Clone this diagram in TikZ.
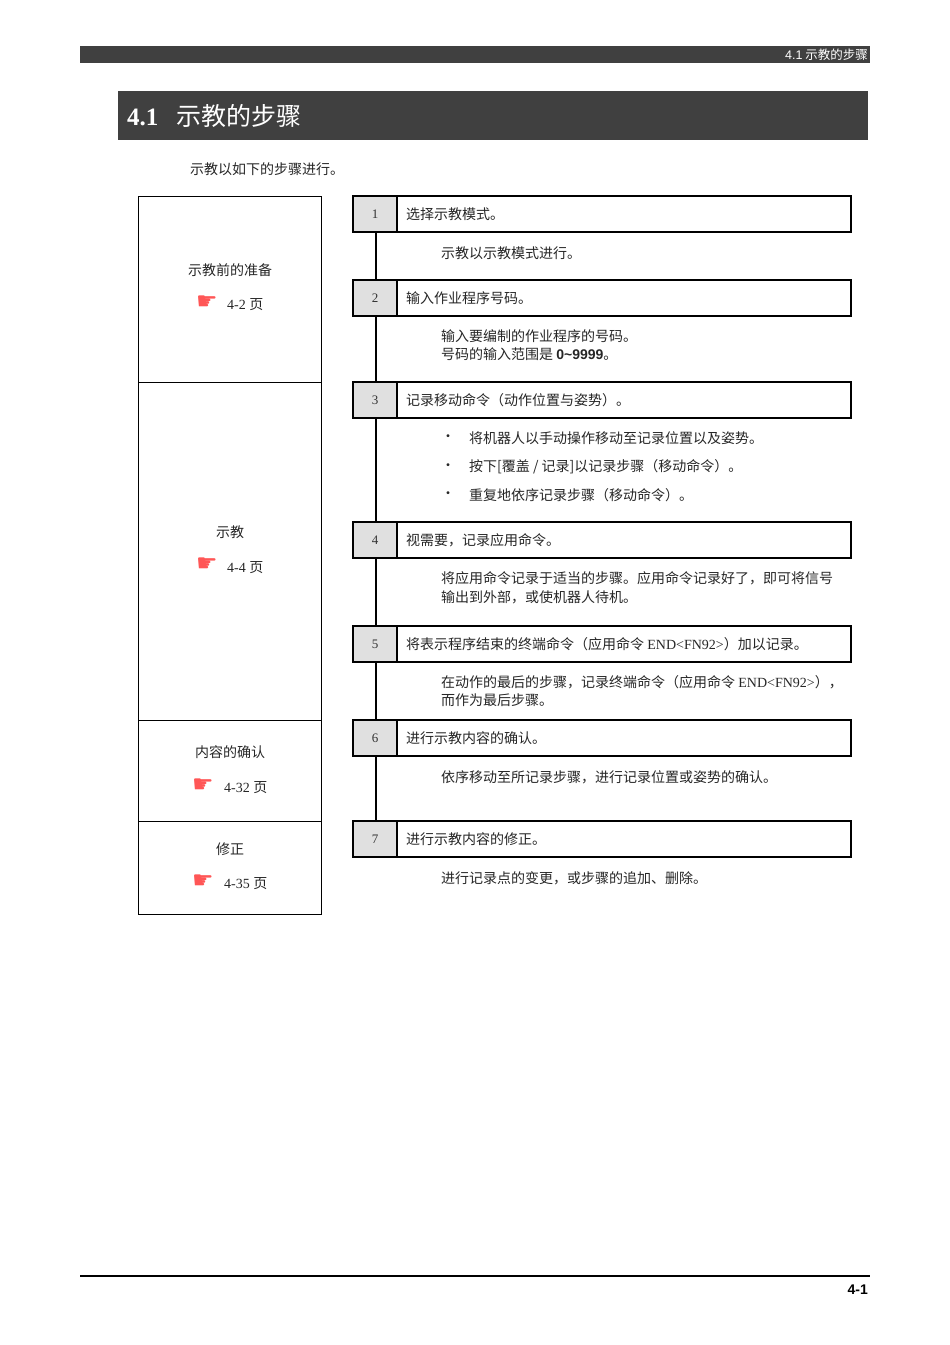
\documentclass[tikz,border=0pt]{standalone}
\usepackage{fontspec}
\setmainfont{Liberation Serif}
\setsansfont{Liberation Sans}
\newfontfamily\cjk{Noto Sans CJK SC}
\newfontfamily\sym{DejaVu Sans}
\begin{document}
\begin{tikzpicture}[x=1pt,y=-1pt,
  txt/.style={font=\cjk\fontsize{14}{18.5}\selectfont,anchor=west,inner sep=0,align=left,text=black!85},
  lbox/.style={draw,line width=0.8pt},
  sbox/.style={draw,line width=1.6pt},
  ncell/.style={fill=black!12,draw,line width=1.6pt},
  num/.style={font=\fontsize{13}{14}\selectfont,text=black!80},
  hand/.style={font=\sym\fontsize{24}{24}\selectfont,text=red!55!pink}]
\useasboundingbox (0,0) rectangle (950,1345);
\fill[black!75] (80,46) rectangle (870,63);
\node[font=\cjk\fontsize{12.5}{13}\selectfont,text=white,anchor=east,inner sep=1pt] (hdr) at (869,54.5) {{\sffamily 4.1} 示教的步骤};
\fill[black!75] (118,91) rectangle (868,140);
\node[font=\cjk\fontsize{25}{28}\selectfont,text=white,anchor=west,inner sep=0] (title) at (127,116) {{\bfseries\rmfamily 4.1}\hspace{18pt}示教的步骤};
\node[txt] (intro) at (190,169) {示教以如下的步骤进行。};
% left
\draw[lbox] (138,196) rectangle (321,382);
\draw[lbox] (138,382) rectangle (321,720);
\draw[lbox] (138,720) rectangle (321,821);
\draw[lbox] (138,821) rectangle (321,914);
\node[txt,anchor=center] (l1) at (230,270) {示教前的准备};
\node[hand] (h1) at (207,303) {☛};
\node[txt] (p1) at (227,305) {\rmfamily 4-2 \cjk 页};
\node[txt,anchor=center] (l2) at (230,532) {示教};
\node[hand] (h2) at (207,565) {☛};
\node[txt] (p2) at (227,568) {\rmfamily 4-4 \cjk 页};
\node[txt,anchor=center] (l3) at (230,752) {内容的确认};
\node[hand] (h3) at (203,786) {☛};
\node[txt] (p3) at (224,788) {\rmfamily 4-32 \cjk 页};
\node[txt,anchor=center] (l4) at (230,849) {修正};
\node[hand] (h4) at (203,882) {☛};
\node[txt] (p4) at (224,884) {\rmfamily 4-35 \cjk 页};
% spine
\draw[line width=1.6pt] (376,232) -- (376,821);
% steps
\foreach \n/\y/\t in {1/196/选择示教模式。,2/280/输入作业程序号码。,3/382/记录移动命令（动作位置与姿势）。,4/522/视需要，记录应用命令。,5/626/将表示程序结束的终端命令（应用命令 {\rmfamily END<FN92>}）加以记录。,6/720/进行示教内容的确认。,7/821/进行示教内容的修正。}{
  \fill[white] (353,\y) rectangle (851,\y+36);
  \draw[ncell] (353,\y) rectangle (397,\y+36);
  \draw[sbox] (397,\y) rectangle (851,\y+36);
  \node[num] (n\n) at (375,\y+18) {\n};
  \node[txt] (s\n) at (406,\y+18) {\t};
}
\node[txt] (d1) at (441,253) {示教以示教模式进行。};
\node[txt] (d2) at (441,345) {输入要编制的作业程序的号码。\\号码的输入范围是 {\sffamily\bfseries 0\textasciitilde9999}。};
\node[txt] (b1) at (441,438) {・};
\node[txt] (d3a) at (469,438) {将机器人以手动操作移动至记录位置以及姿势。};
\node[txt] (b2) at (441,467) {・};
\node[txt] (d3b) at (469,467) {按下[覆盖 / 记录]以记录步骤（移动命令）。};
\node[txt] (b3) at (441,495) {・};
\node[txt] (d3c) at (469,495) {重复地依序记录步骤（移动命令）。};
\node[txt] (d4) at (441,588) {将应用命令记录于适当的步骤。应用命令记录好了，即可将信号\\输出到外部，或使机器人待机。};
\node[txt] (d5) at (441,691) {在动作的最后的步骤，记录终端命令（应用命令 {\rmfamily END<FN92>}），\\而作为最后步骤。};
\node[txt] (d6) at (441,777) {依序移动至所记录步骤，进行记录位置或姿势的确认。};
\node[txt] (d7) at (441,878) {进行记录点的变更，或步骤的追加、删除。};
% footer
\draw[line width=2pt] (80,1276) -- (870,1276);
\node[font=\sffamily\bfseries\fontsize{14}{15}\selectfont,anchor=east,inner sep=0] (pg) at (868,1290) {4-1};
\end{tikzpicture}
\end{document}
